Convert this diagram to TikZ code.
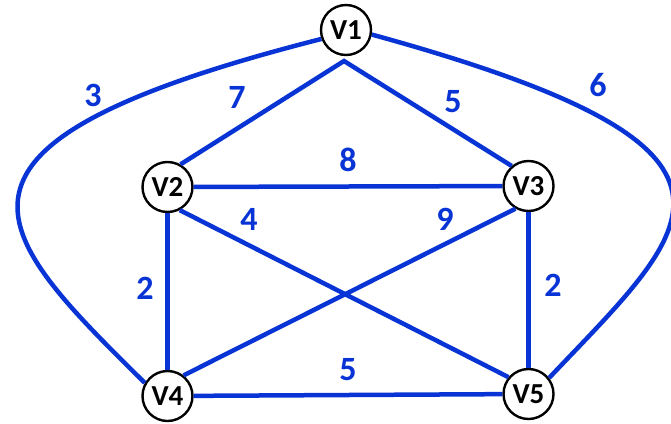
\documentclass[tikz,border=0pt]{standalone}
\usepackage{fontspec}
\setmainfont{Carlito}
\definecolor{edgeblue}{RGB}{8,52,214}
\begin{document}
\begin{tikzpicture}[x=1pt,y=-1pt,
  vtx/.style={circle,draw=black,line width=2.4pt,fill=white,minimum size=50pt,inner sep=0pt,font=\fontsize{29}{30}\selectfont\bfseries},
  link/.style={draw=edgeblue,line width=4.5pt},
  wt/.style={text=edgeblue,font=\fontsize{34}{36}\selectfont\bfseries,inner sep=0pt}]
\useasboundingbox (0,0) rectangle (671,423);
\node[vtx] (V1) at (346,30) {V1};
\node[vtx] (V2) at (167.5,187) {V2};
\node[vtx] (V3) at (528.5,186) {V3};
\node[vtx] (V4) at (167.5,396) {V4};
\node[vtx] (V5) at (528.5,394) {V5};
\coordinate (J) at (344,61);
\draw[link] (V2.60) -- (J) -- (V3.130);
\draw[link] (V2) -- (V3);
\draw[link] (V2.-62) -- (V5.140);
\draw[link] (V3.-120) -- (V4.52);
\draw[link] (V2) -- (V4);
\draw[link] (V3) -- (V5);
\draw[link] (V4) -- (V5);
\draw[link] (V1.200) .. controls (-95,145) and (-10,230) .. (V4.150);
\draw[link] (V1.-10) .. controls (792,150) and (694,225) .. (V5.38);
\node[wt] (w3) at (93,95) {3};
\node[wt] (w7) at (237,97) {7};
\node[wt] (w5a) at (453,102) {5};
\node[wt] (w6) at (598,85) {6};
\node[wt] (w8) at (348,160) {8};
\node[wt] (w4) at (249,219) {4};
\node[wt] (w9) at (445,219) {9};
\node[wt] (w2a) at (145,288) {2};
\node[wt] (w2b) at (553,285) {2};
\node[wt] (w5b) at (348,370) {5};
\end{tikzpicture}
\end{document}
